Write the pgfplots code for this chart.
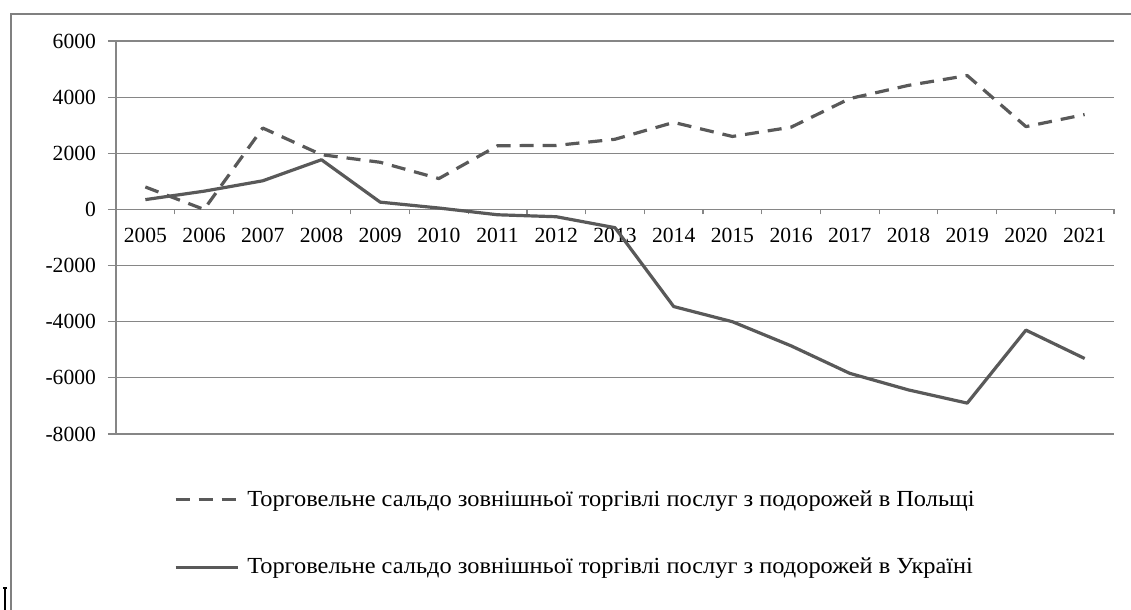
\documentclass[border=0pt]{standalone}
\usepackage{fontspec}
\setmainfont{Liberation Serif}
\usepackage{pgfplots}
\pgfplotsset{compat=1.18}
\definecolor{ser}{RGB}{89,89,89}
\definecolor{grd}{RGB}{134,134,134}
\definecolor{frm}{RGB}{128,128,128}
\newcommand{\legtxt}[1]{\scalebox{1.06}[1]{#1}}
\begin{document}
\begin{tikzpicture}
\useasboundingbox (0,0) rectangle (565.5pt,305pt);
\draw[line width=1pt, frm] (5.5pt,0) -- (5.5pt,298pt) -- (565.5pt,298pt);
\draw[line width=1.1pt, black] (2.4pt,11pt) -- (2.4pt,0pt);
\draw[line width=0.6pt, black] (1.7pt,11pt) -- (3.6pt,11pt);
\begin{axis}[
  at={(58pt,88pt)}, anchor=south west,
  scale only axis, width=499pt, height=196.5pt,
  xmin=-0.5, xmax=16.5, ymin=-8000, ymax=6000,
  axis x line*=middle, axis y line*=left,
  axis line style={grd, line width=0.6pt, -},
  xtick={0,...,16},
  xticklabels={2005,2006,2007,2008,2009,2010,2011,2012,2013,2014,2015,2016,2017,2018,2019,2020,2021},
  major x tick style={draw=none},
  minor xtick={-0.5,0.5,...,16.5},
  minor x tick style={grd, line width=0.6pt},
  ytick={-8000,-6000,-4000,-2000,0,2000,4000,6000},
  yticklabels={-8000,-6000,-4000,-2000,0,2000,4000,6000},
  ymajorgrids, grid style={grd, line width=0.6pt},
  major y tick style={grd, line width=0.6pt},
  tick align=outside,
  major tick length=4pt, minor tick length=2.5pt,
  ticklabel style={font=\fontsize{10.8}{12}\selectfont},
  yticklabel style={xshift=-2.5pt},
  xticklabel style={yshift=-2pt},
  legend cell align=left,
  legend style={at={(rel axis cs:0.0578,-0.1426)}, anchor=north west, draw=none, fill=none, inner sep=0pt, row sep=24.5pt, column sep=3.7pt, nodes={inner sep=0pt, anchor=west}, font=\fontsize{11.5}{13}\selectfont},
  legend image code/.code={\draw[#1] (0pt,0pt) -- (31.3pt,0pt);},
]
\addplot[ser, line width=1.6pt, line join=round, dash pattern=on 7pt off 4.5pt] coordinates {
(0,800) (1,0) (2,2900) (3,1950) (4,1680) (5,1100) (6,2270) (7,2280) (8,2500) (9,3100) (10,2600) (11,2930) (12,3950) (13,4420) (14,4770) (15,2950) (16,3380)};
\addlegendentry{\legtxt{Торговельне сальдо зовнішньої торгівлі послуг з подорожей в Польщі}}
\addplot[ser, line width=1.6pt, line join=round] coordinates {
(0,350) (1,650) (2,1020) (3,1770) (4,260) (5,50) (6,-190) (7,-260) (8,-650) (9,-3460) (10,-4000) (11,-4860) (12,-5840) (13,-6430) (14,-6900) (15,-4300) (16,-5310)};
\addlegendentry{\legtxt{Торговельне сальдо зовнішньої торгівлі послуг з подорожей в Україні}}
\end{axis}
\end{tikzpicture}
\end{document}
